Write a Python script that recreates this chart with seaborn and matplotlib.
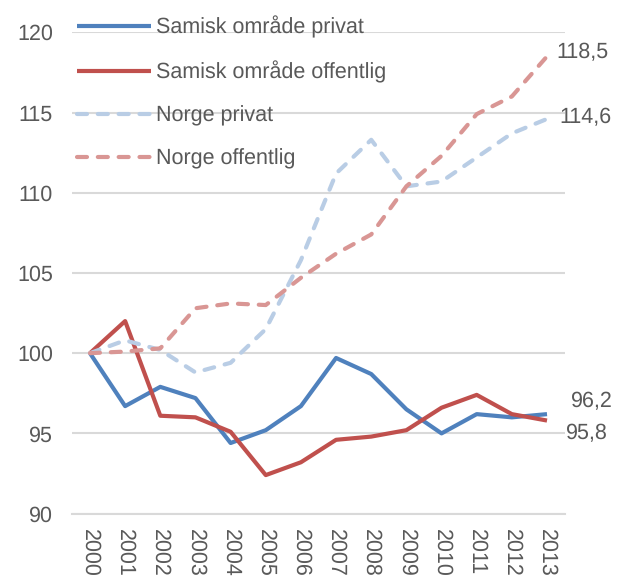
import pandas as pd
import numpy as np
import seaborn as sns
import matplotlib.pyplot as plt

# data (index, 2000 = 100)
years = list(range(2000, 2014))
samisk_privat = [100, 96.7, 97.9, 97.2, 94.4, 95.2, 96.7, 99.7, 98.7, 96.5, 95.0, 96.2, 96.0, 96.2]
samisk_offentlig = [100, 102.0, 96.1, 96.0, 95.1, 92.4, 93.2, 94.6, 94.8, 95.2, 96.6, 97.4, 96.2, 95.8]
norge_privat = [100, 100.8, 100.2, 98.8, 99.4, 101.5, 105.8, 111.2, 113.3, 110.4, 110.7, 112.2, 113.7, 114.6]
norge_offentlig = [100, 100.1, 100.3, 102.8, 103.1, 103.0, 104.7, 106.2, 107.4, 110.4, 112.3, 114.9, 116.0, 118.5]

series_names = ["Samisk område privat", "Samisk område offentlig", "Norge privat", "Norge offentlig"]
end_labels = ["96,2", "95,8", "114,6", "118,5"]

sns.set_style("white")
plt.rcParams['font.family'] = ['Liberation Sans', 'DejaVu Sans']
plt.rcParams['text.hinting'] = 'no_hinting'
text_col = "#595959"

df = pd.DataFrame({
    "year": years * 4,
    "value": samisk_privat + samisk_offentlig + norge_privat + norge_offentlig,
    "serie": sum([[n] * len(years) for n in series_names], []),
})

colors = {"Samisk område privat": "#4F81BD", "Samisk område offentlig": "#C0504D",
          "Norge privat": "#B9CDE5", "Norge offentlig": "#D99694"}
dashed = {"Samisk område privat": False, "Samisk område offentlig": False,
          "Norge privat": True, "Norge offentlig": True}

fig = plt.figure(figsize=(6.22, 5.81), dpi=100)
ax = fig.add_axes([0.1164, 0.116, 0.7913, 0.8284])

for name in series_names:
    sub = df[df["serie"] == name]
    sns.lineplot(data=sub, x="year", y="value", ax=ax, color=colors[name], lw=3,
                 label=name, solid_capstyle="butt")
    line = ax.lines[-1]
    if dashed[name]:
        line.set_dashes([2.4, 2.6])
        line.set_dash_capstyle("round")

# end labels
offsets = {"Samisk område privat": (17, 9), "Samisk område offentlig": (14, -9),
           "Norge privat": (9, 1), "Norge offentlig": (7, 3)}
for name, lab in zip(series_names, end_labels):
    sub = df[df["serie"] == name]
    ax.annotate(lab, (sub["year"].iloc[-1], sub["value"].iloc[-1]),
                xytext=offsets[name], textcoords="offset points",
                ha="left", va="center", fontsize=15.5, color=text_col,
                annotation_clip=False)

ax.set_ylim(90, 120)
ax.set_yticks(range(90, 121, 5))
ax.set_xlim(1999.5, 2013.5)
ax.set_xticks(years)
ax.set_xticklabels([str(y) for y in years], rotation=-90, va="top", ha="center")
ax.tick_params(axis="both", length=0, labelsize=15.5, labelcolor=text_col)
ax.tick_params(axis="y", pad=14)
ax.tick_params(axis="x", pad=11)
ax.set_xlabel("")
ax.set_ylabel("")
ax.grid(axis="y", color="#D9D9D9", lw=1.5)
ax.set_axisbelow(True)
for s in ["left", "right", "top"]:
    ax.spines[s].set_visible(False)
ax.spines["bottom"].set_color("#D9D9D9")
ax.spines["bottom"].set_linewidth(1.5)

leg = ax.legend(loc="upper left", bbox_to_anchor=(0.01, 1.035), frameon=False,
                fontsize=15.5, handlelength=3.4, handletextpad=0.25,
                labelspacing=1.05, borderaxespad=0, borderpad=0)
for t in leg.get_texts():
    t.set_color(text_col)

plt.savefig("out.png", dpi=100)
